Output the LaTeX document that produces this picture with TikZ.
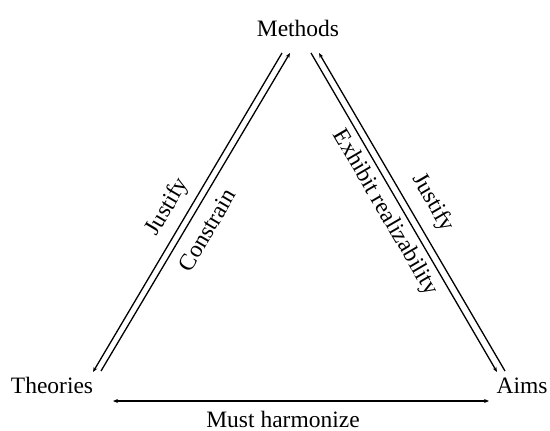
\documentclass[tikz,border=0pt]{standalone}
\usepackage{fontspec}
\setmainfont{Liberation Serif}
\usetikzlibrary{arrows.meta}
\begin{document}
\begin{tikzpicture}[x=1pt,y=-1pt,
  lbl/.style={font=\fontsize{23.5}{25}\selectfont, inner sep=0pt},
  conn/.style={line width=1.3pt, -{Stealth[length=5pt,width=4pt]}}]
\useasboundingbox (0,0) rectangle (550,431);
\node[lbl] (methods) at (298,28) {Methods};
\node[lbl] (theories) at (52,385) {Theories};
\node[lbl] (aims) at (522,386) {Aims};
% endpoints
\coordinate (lo1) at (282,53); \coordinate (lo2) at (93,372);
\coordinate (li1) at (290,53); \coordinate (li2) at (101,371);
\coordinate (ri1) at (311,53); \coordinate (ri2) at (497,372);
\coordinate (ro1) at (319,53); \coordinate (ro2) at (505,371);
\coordinate (h1) at (113,401); \coordinate (h2) at (489,401);
\draw[conn] (lo1) -- (lo2);
\draw[conn] (li2) -- (li1);
\draw[conn] (ri1) -- (ri2);
\draw[conn] (ro2) -- (ro1);
\draw[line width=1.3pt, {Stealth[length=5pt,width=4pt]}-{Stealth[length=5pt,width=4pt]}] (h1) -- (h2);
\node[lbl, rotate=59.4] (j1) at (168,207) {Justify};
\node[lbl, rotate=59.4] (c1) at (207,230) {Constrain};
\node[lbl, rotate=-59.7] (er) at (385,213) {Exhibit realizability};
\node[lbl, rotate=-59.7] (j2) at (433,203) {Justify};
\node[lbl] (mh) at (283,419) {Must harmonize};
\end{tikzpicture}
\end{document}
